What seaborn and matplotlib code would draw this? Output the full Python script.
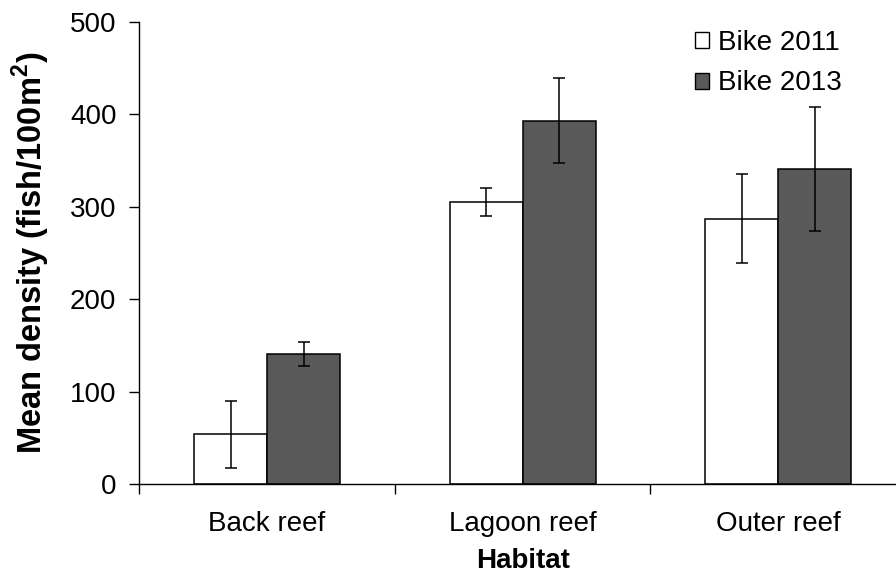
import matplotlib
matplotlib.use("Agg")
import matplotlib.pyplot as plt
import seaborn as sns
import pandas as pd

# Mean fish density by habitat and survey year, with error bar half-widths
habitats = ["Back reef", "Lagoon reef", "Outer reef"]
years = ["Bike 2011", "Bike 2013"]
density_2011 = [54, 305, 287]
density_2013 = [141, 393, 341]
error_2011 = [36, 15, 48]
error_2013 = [13, 46, 67]

df = pd.DataFrame({
    "habitat": habitats * 2,
    "year": [years[0]] * 3 + [years[1]] * 3,
    "density": density_2011 + density_2013,
})
errors = {years[0]: error_2011, years[1]: error_2013}

sns.set_style("ticks")
plt.rcParams["font.family"] = ["Liberation Sans", "DejaVu Sans"]
plt.rcParams["font.size"] = 20
plt.rcParams["text.color"] = "black"
plt.rcParams["axes.labelcolor"] = "black"
plt.rcParams["xtick.color"] = "black"
plt.rcParams["ytick.color"] = "black"

fig = plt.figure(figsize=(8.96, 5.76), dpi=100)
ax = fig.add_axes([0.1555, 0.1592, 0.8557, 0.8031])

sns.barplot(
    data=df, x="habitat", y="density", hue="year",
    order=habitats, hue_order=years,
    palette=["white", "#595959"], edgecolor="black", linewidth=1.1,
    width=0.57, gap=0, errorbar=None, saturation=1, ax=ax,
)

# Error bars centred on each bar top
for container, year in zip(ax.containers, years):
    xs = [b.get_x() + b.get_width() / 2 for b in container]
    ys = [b.get_height() for b in container]
    ax.errorbar(xs, ys, yerr=errors[year], fmt="none", ecolor="black",
                elinewidth=1.1, capsize=4.5, capthick=1.1, zorder=3)

ax.set_xlim(-0.5, 2.5)
ax.set_ylim(0, 500)
ax.set_yticks([0, 100, 200, 300, 400, 500])

# Tick marks between categories, labels at category centres
ax.set_xticks([-0.5, 0.5, 1.5, 2.5])
ax.set_xticklabels([])
ax.set_xticks([0, 1, 2], minor=True)
ax.set_xticklabels(habitats, minor=True)
ax.tick_params(axis="x", which="major", length=7, width=1, direction="out", color="black")
ax.tick_params(axis="x", which="minor", length=0, pad=19, labelsize=20, labelcolor="black")
ax.tick_params(axis="y", length=7.5, width=1, direction="out", pad=9, labelsize=20,
               color="black", labelcolor="black")

for side in ["top", "right"]:
    ax.spines[side].set_visible(False)
for side in ["left", "bottom"]:
    ax.spines[side].set_color("black")
    ax.spines[side].set_linewidth(1)

ax.set_xlabel("Habitat", fontsize=20, fontweight="bold", labelpad=8, color="black")
ax.set_ylabel("Mean density (fish/100m$^\\mathregular{2}$)", fontsize=23.5,
              fontweight="bold", labelpad=13, color="black")

handles, labels = ax.get_legend_handles_labels()
for h in handles:
    h.set_edgecolor("black")
    h.set_linewidth(1)
ax.legend(handles, labels, loc="upper left", bbox_to_anchor=(695 / 896, 1 - 30 / 576),
          bbox_transform=fig.transFigure, frameon=False, fontsize=20,
          handlelength=0.52, handleheight=0.52, handletextpad=0.3,
          labelspacing=0.52, borderpad=0, borderaxespad=0, labelcolor="black")

fig.savefig("out.png", dpi=100)
